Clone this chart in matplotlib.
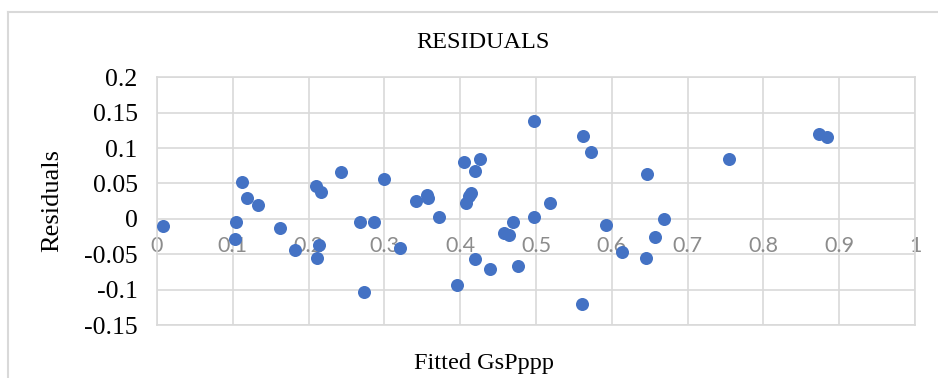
import matplotlib
matplotlib.use("Agg")
import matplotlib.pyplot as plt
from matplotlib.lines import Line2D

fitted = [0.008, 0.104, 0.103, 0.112, 0.119, 0.133, 0.162, 0.182, 0.210, 0.216,
          0.214, 0.211, 0.243, 0.268, 0.273, 0.286, 0.299, 0.321, 0.342, 0.356,
          0.358, 0.372, 0.396, 0.405, 0.426, 0.419, 0.414, 0.411, 0.408, 0.420,
          0.439, 0.458, 0.465, 0.469, 0.476, 0.497, 0.498, 0.519, 0.562, 0.572,
          0.561, 0.593, 0.614, 0.645, 0.647, 0.657, 0.669, 0.754, 0.873, 0.884]
residuals = [-0.010, -0.004, -0.029, 0.052, 0.029, 0.019, -0.013, -0.044, 0.047, 0.038,
             -0.037, -0.056, 0.066, -0.005, -0.104, -0.004, 0.057, -0.041, 0.025, 0.034,
             0.030, 0.003, -0.094, 0.081, 0.084, 0.068, 0.036, 0.032, 0.023, -0.057,
             -0.071, -0.020, -0.023, -0.004, -0.067, 0.138, 0.003, 0.022, 0.117, 0.095,
             -0.120, -0.008, -0.047, -0.055, 0.063, -0.025, 0.000, 0.085, 0.120, 0.115]

x_ticks = [0, 0.1, 0.2, 0.3, 0.4, 0.5, 0.6, 0.7, 0.8, 0.9, 1]
x_labels = ["0", "0.1", "0.2", "0.3", "0.4", "0.5", "0.6", "0.7", "0.8", "0.9", "1"]
y_ticks = [-0.15, -0.1, -0.05, 0, 0.05, 0.1, 0.15, 0.2]
y_labels = ["-0.15", "-0.1", "-0.05", "0", "0.05", "0.1", "0.15", "0.2"]

W, H = 938, 378
GRID = "#d9d9d9"
SERIF = ["Liberation Serif", "DejaVu Serif"]

fig = plt.figure(figsize=(W / 100, H / 100), dpi=100)
ax = fig.add_axes([157 / W, 1 - 325 / H, (915 - 157) / W, (325 - 77.3) / H])

ax.scatter(fitted, residuals, s=88, color="#4472C4", zorder=3, linewidths=0)

ax.set_xlim(0, 1)
ax.set_ylim(-0.15, 0.2)
ax.set_xticks(x_ticks)
ax.set_yticks(y_ticks)
ax.set_yticklabels(y_labels, fontfamily=SERIF, fontsize=18.5, color="black")
ax.set_xticklabels([])
ax.tick_params(length=0)
ax.tick_params(axis="y", pad=14)
ax.grid(True, color=GRID, linewidth=1.2, zorder=0)
ax.set_axisbelow(True)
for sp in ax.spines.values():
    sp.set_color(GRID)
    sp.set_linewidth(1.2)

# x tick labels sit just under the zero line, inside the plot
for xv, lab in zip(x_ticks, x_labels):
    ax.text(xv, -0.038, lab, ha="center", va="center", fontsize=15.5,
            fontfamily=["Lato", "DejaVu Sans"], color="#8c8c8c", zorder=2)

fig.text(483 / W, 1 - 42 / H, "RESIDUALS", ha="center", va="center",
         fontfamily=SERIF, fontsize=17.5)
fig.text(484 / W, 1 - 363 / H, "Fitted GsPppp", ha="center", va="center",
         fontfamily=SERIF, fontsize=17.5)
fig.text(52 / W, 1 - 200 / H, "Residuals", ha="center", va="center",
         rotation=90, fontfamily=SERIF, fontsize=19)

# chart area border, cut off at the right and bottom
fig.add_artist(Line2D([8 / W, 1.0], [1 - 12 / H, 1 - 12 / H], color=GRID, linewidth=1.5))
fig.add_artist(Line2D([8 / W, 8 / W], [0, 1 - 12 / H], color=GRID, linewidth=1.5))

fig.savefig("out.png", dpi=100)
